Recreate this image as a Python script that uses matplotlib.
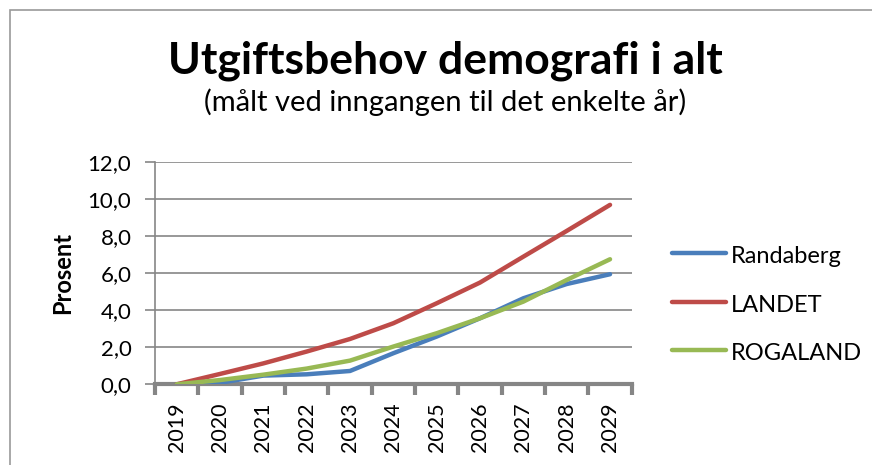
import numpy as np
import matplotlib
matplotlib.use("Agg")
import matplotlib.pyplot as plt
from matplotlib.patches import Rectangle
from matplotlib.lines import Line2D

plt.rcParams["font.family"] = ["Lato", "DejaVu Sans"]

# ============================================================
# data
# ============================================================
years = ["2019", "2020", "2021", "2022", "2023", "2024",
         "2025", "2026", "2027", "2028", "2029"]

randaberg = [0.0, 0.08, 0.47, 0.54, 0.72, 1.68, 2.58, 3.57, 4.65, 5.42, 5.95]
landet = [0.0, 0.56, 1.13, 1.77, 2.45, 3.30, 4.38, 5.50, 6.90, 8.29, 9.70]
rogaland = [0.0, 0.23, 0.52, 0.85, 1.28, 2.04, 2.76, 3.57, 4.47, 5.64, 6.76]

series = [
    ("Randaberg", randaberg, "#4A7EBB"),
    ("LANDET", landet, "#BE4B48"),
    ("ROGALAND", rogaland, "#98B954"),
]

yticks = [0, 2, 4, 6, 8, 10, 12]

GRAY = "#868686"

# ============================================================
# figure
# ============================================================
W, H = 872, 465
fig = plt.figure(figsize=(W / 100, H / 100), dpi=100)

# chart border (only top / left visible in the original)
fig.add_artist(Rectangle((9.5 / W, -0.1), 1.2, 1.1 - 10.5 / H,
                         transform=fig.transFigure, fill=False,
                         edgecolor="#9A9A9A", lw=1.2))

ax = fig.add_axes([155 / W, 1 - 384.3 / H, (631.7 - 155) / W, (384.3 - 162.3) / H])

x = np.arange(len(years))
for name, vals, col in series:
    ax.plot(x, vals, color=col, lw=3.2, label=name,
            solid_capstyle="round", solid_joinstyle="round", zorder=3)

ax.set_xlim(-0.5, len(years) - 0.5)
ax.set_ylim(0, 12)
ax.set_yticks(yticks)
ax.set_yticklabels([f"{v:.1f}".replace(".", ",") for v in yticks], fontsize=16)
ax.yaxis.grid(True, color=GRAY, lw=1.2)
ax.set_axisbelow(True)

ax.set_xticks(np.arange(len(years) + 1) - 0.5)
ax.set_xticklabels([])
ax.set_xticks(x, minor=True)
ax.set_xticklabels(years, minor=True, rotation=90, fontsize=15.5)
ax.tick_params(axis="x", which="major", length=8, width=3, color=GRAY, direction="out")
ax.tick_params(axis="x", which="minor", length=0, pad=13)
ax.tick_params(axis="y", length=7, width=1.2, color=GRAY, pad=10)

for s in ["top", "right"]:
    ax.spines[s].set_visible(False)
ax.spines["left"].set_color(GRAY)
ax.spines["left"].set_linewidth(1.2)
ax.spines["bottom"].set_color(GRAY)
ax.spines["bottom"].set_linewidth(3)

ax.set_ylabel("Prosent", fontsize=17, fontweight="bold", labelpad=10)

fig.text(445 / W, 1 - 61 / H, "Utgiftsbehov demografi i alt",
         ha="center", va="center", fontsize=32, fontweight="bold")
fig.text(445 / W, 1 - 102 / H, "(målt ved inngangen til det enkelte år)",
         ha="center", va="center", fontsize=21)

# legend, laid out by hand so the rows are evenly spaced
handles, labels = ax.get_legend_handles_labels()
row_y = [253.3, 301.7, 350.0]
for h, lab, ry in zip(handles, labels, row_y):
    fig.add_artist(Line2D([672 / W, 726 / W], [1 - ry / H, 1 - ry / H],
                          transform=fig.transFigure, color=h.get_color(),
                          lw=3.2, solid_capstyle="round"))
    fig.text(731 / W, 1 - (ry + 10) / H, lab, ha="left", va="baseline",
             fontsize=17)

fig.savefig("out.png", dpi=100)
